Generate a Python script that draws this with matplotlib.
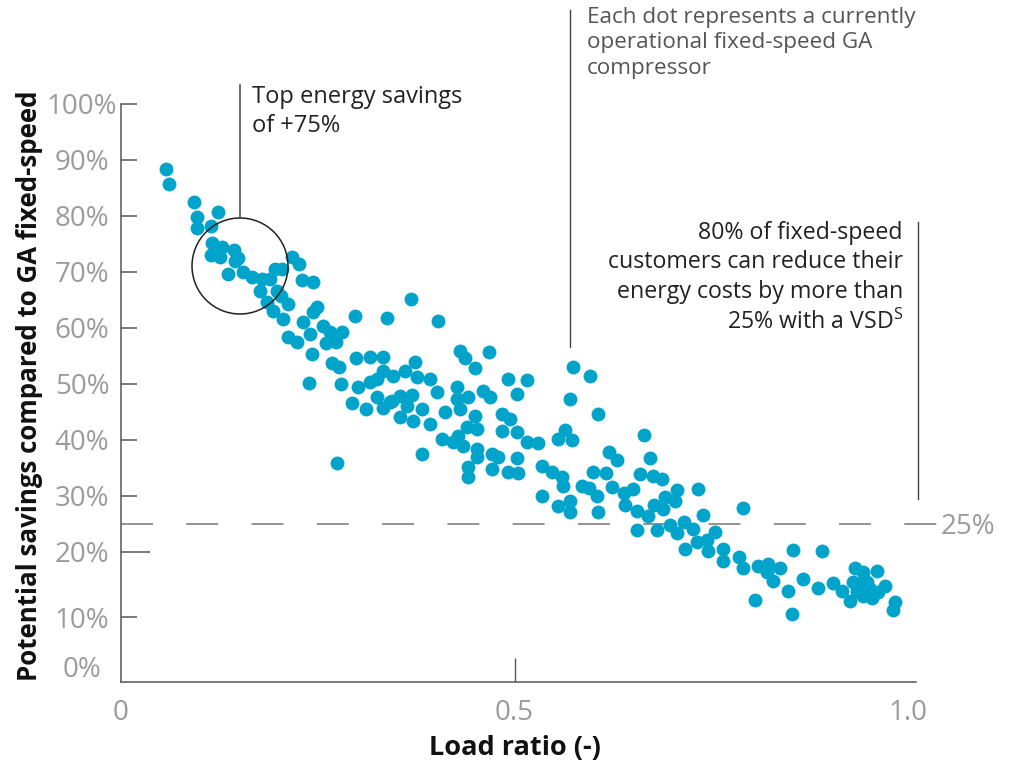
import numpy as np
import matplotlib
matplotlib.use("Agg")
import matplotlib.pyplot as plt
from matplotlib.patches import Circle
from matplotlib.lines import Line2D
from matplotlib.transforms import Affine2D

plt.rcParams["font.family"] = ["Open Sans", "DejaVu Sans"]
plt.rcParams["mathtext.fontset"] = "custom"
plt.rcParams["mathtext.rm"] = "Open Sans"
plt.rcParams["lines.scale_dashes"] = False

# load ratio (-) and potential savings (%) for each compressor
load_ratio = [
    0.057, 0.061, 0.093, 0.097, 0.097, 0.123, 0.114, 0.116, 0.128, 0.144,
    0.114, 0.126, 0.149, 0.145, 0.136, 0.155, 0.166, 0.179, 0.189, 0.196,
    0.205, 0.217, 0.226, 0.177, 0.198, 0.203, 0.186, 0.212, 0.193, 0.206,
    0.212, 0.224, 0.230, 0.244, 0.249, 0.244, 0.231, 0.240, 0.243, 0.257,
    0.266, 0.281, 0.260, 0.273, 0.297, 0.338, 0.368, 0.403, 0.268, 0.277,
    0.299, 0.316, 0.333, 0.239, 0.280, 0.301, 0.316, 0.325, 0.333, 0.346,
    0.361, 0.374, 0.294, 0.311, 0.333, 0.344, 0.355, 0.363, 0.371, 0.382,
    0.325, 0.342, 0.355, 0.370, 0.376, 0.393, 0.402, 0.393, 0.412, 0.408,
    0.422, 0.435, 0.452, 0.452, 0.382, 0.431, 0.437, 0.450, 0.468, 0.427,
    0.427, 0.441, 0.431, 0.460, 0.469, 0.450, 0.440, 0.452, 0.428, 0.441,
    0.441, 0.471, 0.479, 0.471, 0.492, 0.504, 0.503, 0.484, 0.494, 0.484,
    0.503, 0.516, 0.530, 0.492, 0.516, 0.503, 0.535, 0.548, 0.535, 0.274,
    0.574, 0.596, 0.571, 0.606, 0.564, 0.555, 0.573, 0.665, 0.620, 0.630,
    0.672, 0.560, 0.562, 0.600, 0.616, 0.586, 0.595, 0.605, 0.624, 0.659,
    0.676, 0.687, 0.639, 0.651, 0.640, 0.656, 0.571, 0.555, 0.571, 0.606,
    0.706, 0.691, 0.704, 0.677, 0.689, 0.670, 0.733, 0.740, 0.790, 0.656,
    0.681, 0.698, 0.706, 0.715, 0.727, 0.717, 0.732, 0.745, 0.746, 0.755,
    0.765, 0.765, 0.785, 0.790, 0.809, 0.822, 0.821, 0.828, 0.837, 0.854,
    0.891, 0.806, 0.848, 0.853, 0.867, 0.886, 0.905, 0.916, 0.926, 0.933,
    0.943, 0.961, 0.930, 0.939, 0.948, 0.952, 0.935, 0.943, 0.954, 0.962,
    0.971, 0.983, 0.981,
]
savings = [
    88.4, 85.7, 82.5, 79.8, 77.9, 80.7, 78.2, 75.2, 74.5, 73.9,
    73.0, 72.7, 72.5, 72.0, 69.6, 70.0, 69.1, 68.8, 68.8, 70.5,
    70.5, 72.7, 71.4, 66.6, 66.6, 65.7, 64.6, 64.3, 63.0, 61.6,
    58.4, 57.5, 68.6, 68.2, 63.8, 62.9, 61.1, 58.9, 55.4, 60.4,
    59.3, 59.3, 57.3, 57.5, 62.1, 61.8, 65.2, 61.3, 53.8, 53.0,
    54.6, 54.8, 54.8, 50.2, 50.0, 49.5, 50.4, 50.9, 52.3, 51.4,
    52.3, 53.9, 46.6, 45.5, 45.7, 47.0, 44.1, 46.1, 43.4, 45.5,
    47.7, 46.8, 47.9, 48.0, 51.3, 50.9, 48.6, 42.9, 45.0, 40.2,
    39.6, 38.9, 38.4, 37.0, 37.5, 55.9, 54.6, 52.9, 55.7, 49.5,
    47.3, 47.7, 45.5, 48.8, 47.7, 44.3, 42.3, 42.0, 40.7, 35.2,
    33.4, 37.5, 37.0, 34.8, 34.3, 34.1, 36.8, 44.6, 43.8, 41.6,
    41.4, 39.6, 39.5, 50.9, 50.7, 48.2, 35.4, 34.3, 30.0, 35.9,
    53.0, 51.4, 47.3, 44.6, 41.8, 40.2, 40.0, 40.9, 37.9, 36.4,
    36.8, 33.4, 31.8, 34.3, 34.1, 31.8, 31.4, 30.0, 31.6, 33.9,
    33.6, 33.0, 30.5, 31.3, 28.4, 27.3, 29.1, 28.2, 27.1, 27.1,
    31.1, 29.8, 29.1, 28.4, 27.7, 26.4, 31.3, 26.6, 27.9, 23.9,
    23.9, 24.8, 23.4, 25.4, 24.1, 20.5, 21.8, 22.1, 20.2, 23.6,
    20.5, 18.6, 19.2, 17.5, 17.8, 18.2, 16.9, 15.5, 17.5, 20.4,
    20.2, 12.6, 14.0, 10.5, 15.8, 14.5, 15.2, 14.0, 12.5, 17.5,
    16.9, 17.1, 15.4, 15.1, 15.4, 14.3, 14.0, 13.2, 12.9, 13.8,
    14.8, 12.3, 11.1,
]
y_ticks = [10, 20, 30, 40, 50, 60, 70, 80, 90, 100]
y_tick_labels = ["10%", "20%", "30%", "40%", "50%", "60%", "70%", "80%", "90%", "100%"]
x_ticks = [0, 0.5, 1.0]
x_tick_labels = ["0", "0.5", "1.0"]
threshold = 25

DOT = "#00a4cb"
GREY = "#9b9b9b"
AXIS = "#555555"


# the chart's y axis is stretched a bit below 20 %
def fwd(v):
    v = np.asarray(v, dtype=float)
    return np.where(v < 20, 6.5 * v, 130 + 5.6 * (v - 20))


def inv(u):
    u = np.asarray(u, dtype=float)
    return np.where(u < 130, u / 6.5, 20 + (u - 130) / 5.6)


W, H = 1016, 765
fig = plt.figure(figsize=(W / 100, H / 100), dpi=100)
px = Affine2D().scale(1, -1).translate(0, H)  # figure pixels, y down

ax = fig.add_axes([121 / W, 83 / H, 795 / W, 578 / H])
ax.set_yscale("function", functions=(fwd, inv))
ax.set_xlim(0, 1.01)
ax.set_ylim(0, 100)

ax.scatter(load_ratio, savings, s=100, color=DOT, linewidths=0, zorder=3, clip_on=False)

# 25 % threshold
ax.plot([0, 1.038], [threshold, threshold], color="#808080", lw=1.2,
        dashes=(23, 24), clip_on=False, zorder=2)
ax.text(1.041, threshold, f"{threshold}%", color=GREY, fontsize=20,
        va="center_baseline", ha="left")

for s in ["top", "right"]:
    ax.spines[s].set_visible(False)
for s in ["left", "bottom"]:
    ax.spines[s].set_color(AXIS)
    ax.spines[s].set_linewidth(1.1)

# y ticks, "0%" sits a little above the x axis without a tick mark
zero_pos = 2.46
ax.set_yticks([zero_pos] + y_ticks, ["0%"] + y_tick_labels)
ax.tick_params(axis="y", direction="in", length=11.5, width=1.1, color=AXIS,
               labelcolor=GREY, labelsize=20, pad=28)
yt = ax.yaxis.get_major_ticks()
yt[0].tick1line.set_visible(False)
yt[2].tick1line.set_markersize(21)
plt.setp(ax.get_yticklabels(), ha="center")

ax.set_xticks(x_ticks, x_tick_labels)
ax.tick_params(axis="x", direction="in", length=17, width=1.0, color=AXIS,
               labelcolor=GREY, labelsize=20, pad=12)
xt = ax.xaxis.get_major_ticks()
xt[0].tick1line.set_visible(False)
xt[2].tick1line.set_visible(False)

fig.text(515, 748, "Load ratio (-)", transform=px, ha="center", va="center",
         fontsize=19.5, fontweight="bold", color="#111111")
fig.text(30, 386, "Potential savings compared to GA fixed-speed", transform=px,
         rotation=90, ha="center", va="center", fontsize=18.6, fontweight="bold",
         color="#111111")

# callouts
fig.add_artist(Circle((240, 266), 48, transform=px, fill=False, ec="#222222", lw=1.1))
fig.add_artist(Line2D([240, 240], [85, 218], transform=px, color="#444444", lw=1.1))
fig.add_artist(Line2D([570, 570], [10, 347], transform=px, color="#444444", lw=1.0))
fig.add_artist(Line2D([918, 918], [222, 499], transform=px, color="#444444", lw=1.0))

fig.text(252, 85, "Top energy savings\nof +75%", transform=px, ha="left", va="top",
         fontsize=17, color="#222222", linespacing=1.3)
fig.text(587, 7, "Each dot represents a currently\noperational fixed-speed GA\ncompressor",
         transform=px, ha="left", va="top", fontsize=16.2, color="#555555", linespacing=1.28)
fig.text(903, 221, "80% of fixed-speed\ncustomers can reduce their\nenergy costs by more than\n"
         "25% with a VSD$^{\\mathrm{S}}$", transform=px, ha="right", va="top",
         fontsize=16.7, color="#222222", linespacing=1.3, multialignment="right")

fig.savefig("out.png", dpi=100)
